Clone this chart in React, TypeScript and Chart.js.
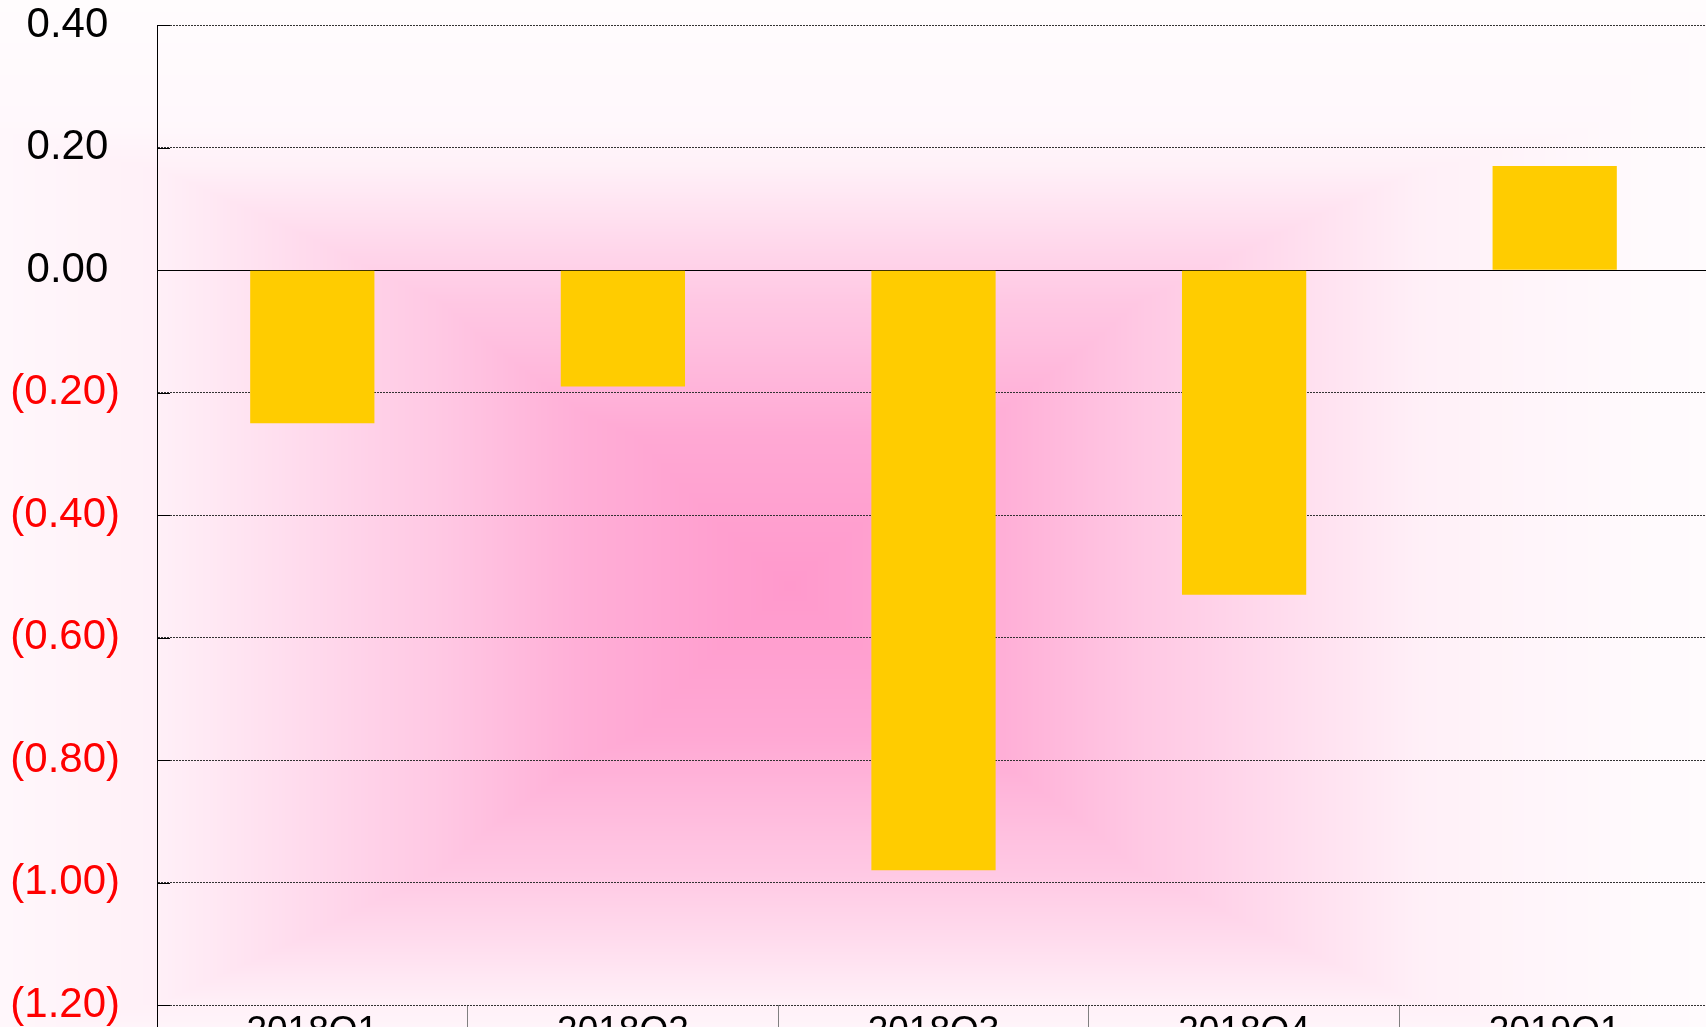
import React, { useEffect, useRef } from 'react';
import { Chart, registerables } from 'chart.js';

Chart.register(...registerables);

// ---- data ----
const categories: string[] = ['2018Q1', '2018Q2', '2018Q3', '2018Q4', '2019Q1'];
const values: number[] = [-0.25, -0.19, -0.98, -0.53, 0.17];
const yMin = -1.2;
const yMax = 0.4;
const yStep = 0.2;

// ---- style ----
const FONT = '"Liberation Sans", Arial, Helvetica, sans-serif';
const W = 1712;
const H = 1055;
const BAR_COLOR = '#ffcc00';

const isZero = (v: number) => Math.abs(v) < 1e-9;

function fmt(v: number): string {
  if (isZero(v)) return '0.00 ';
  return v < 0 ? `(${Math.abs(v).toFixed(2)})` : `${v.toFixed(2)} `;
}

// background: rectangular (from-centre) pink gradient
const PINK = [255, 153, 204];
const GX = 790;
const GY = 586;
const PROFILE_X: [number, number][] = [
  [0, 1], [80, 0.93], [210, 0.79], [350, 0.54], [412, 0.46], [630, 0.15], [850, 0.05], [1100, 0.02],
];
const PROFILE_Y: [number, number][] = [
  [0, 1], [150, 0.85], [246, 0.62], [285, 0.54], [350, 0.36], [420, 0.14], [460, 0.07], [620, 0.02],
];

function interp(pts: [number, number][], d: number): number {
  if (d <= pts[0][0]) return pts[0][1];
  for (let i = 1; i < pts.length; i++) {
    if (d <= pts[i][0]) {
      const [d0, f0] = pts[i - 1];
      const [d1, f1] = pts[i];
      return f0 + ((f1 - f0) * (d - d0)) / (d1 - d0);
    }
  }
  return pts[pts.length - 1][1];
}

const bgPlugin = {
  id: 'bgGradient',
  beforeDraw(chart: any) {
    const { ctx, width, height } = chart;
    const img = ctx.createImageData(width, height);
    const fx = new Float32Array(width);
    const fy = new Float32Array(height);
    for (let x = 0; x < width; x++) fx[x] = interp(PROFILE_X, Math.abs(x + 0.5 - GX));
    for (let y = 0; y < height; y++) fy[y] = interp(PROFILE_Y, Math.abs(y + 0.5 - GY));
    const d = img.data;
    let p = 0;
    for (let y = 0; y < height; y++) {
      for (let x = 0; x < width; x++) {
        const f = Math.min(fx[x], fy[y]);
        d[p] = Math.round(255 + (PINK[0] - 255) * f);
        d[p + 1] = Math.round(255 + (PINK[1] - 255) * f);
        d[p + 2] = Math.round(255 + (PINK[2] - 255) * f);
        d[p + 3] = 255;
        p += 4;
      }
    }
    ctx.putImageData(img, 0, 0);
  },
};

const innerTickPlugin = {
  id: 'innerTicks',
  afterDraw(chart: any) {
    const { ctx, chartArea } = chart;
    const ys = chart.scales.y;
    ctx.save();
    ctx.strokeStyle = '#000';
    ctx.lineWidth = 1;
    ys.ticks.forEach((t: any) => {
      const py = Math.round(ys.getPixelForValue(t.value)) + 0.5;
      ctx.beginPath();
      ctx.moveTo(chartArea.left, py);
      ctx.lineTo(chartArea.left + 13, py);
      ctx.stroke();
    });
    ctx.restore();
  },
};

export default function App() {
  const ref = useRef<HTMLCanvasElement | null>(null);

  useEffect(() => {
    if (!ref.current) return;
    const chart = new Chart(ref.current, {
      type: 'bar',
      data: {
        labels: categories,
        datasets: [
          {
            data: values,
            backgroundColor: BAR_COLOR,
            borderWidth: 0,
            barPercentage: 0.4,
            categoryPercentage: 1.0,
          },
        ],
      },
      options: {
        responsive: false,
        animation: false,
        layout: { padding: { left: 0, right: 2, top: 0, bottom: 0 } },
        plugins: {
          legend: { display: false },
          tooltip: { enabled: false },
          title: { display: false },
        },
        scales: {
          x: {
            afterFit(s: any) {
              s.height = H - 1005;
            },
            grid: {
              display: true,
              drawOnChartArea: false,
              drawTicks: true,
              tickLength: 60,
              offset: true,
              tickColor: (c: any) => (c.type === 'tick' && c.index === 0 ? '#000000' : '#808080'),
              tickWidth: 1,
            },
            border: { display: false },
            ticks: {
              padding: -55,
              maxRotation: 0,
              autoSkip: false,
              color: '#000000',
              font: { family: FONT, size: 37 },
            },
          },
          y: {
            min: yMin,
            max: yMax,
            afterFit(s: any) {
              s.width = 157;
            },
            ticks: {
              stepSize: yStep,
              padding: 0,
              color: (c: any) => (c.tick && c.tick.value < -1e-9 ? '#ff0000' : '#000000'),
              font: { family: FONT, size: 42 },
              callback: (v: any) => fmt(Number(v)),
            },
            grid: {
              drawTicks: true,
              tickLength: 37,
              tickColor: 'rgba(0,0,0,0)',
              lineWidth: 1,
              color: (c: any) => (c.tick && isZero(c.tick.value) ? '#000000' : '#333333'),
            },
            border: {
              display: true,
              color: '#000000',
              width: 1,
              dash: (c: any) => (c.type === 'tick' && c.tick && !isZero(c.tick.value) ? [2, 1] : []),
            },
          },
        },
      },
      plugins: [bgPlugin, innerTickPlugin],
    });
    return () => chart.destroy();
  }, []);

  return (
    <div
      style={{
        position: 'fixed',
        left: 0,
        top: 0,
        width: 1706,
        height: 1027,
        overflow: 'hidden',
        background: '#ffffff',
      }}
    >
      <canvas ref={ref} width={W} height={H} style={{ display: 'block', width: W, height: H }} />
    </div>
  );
}
